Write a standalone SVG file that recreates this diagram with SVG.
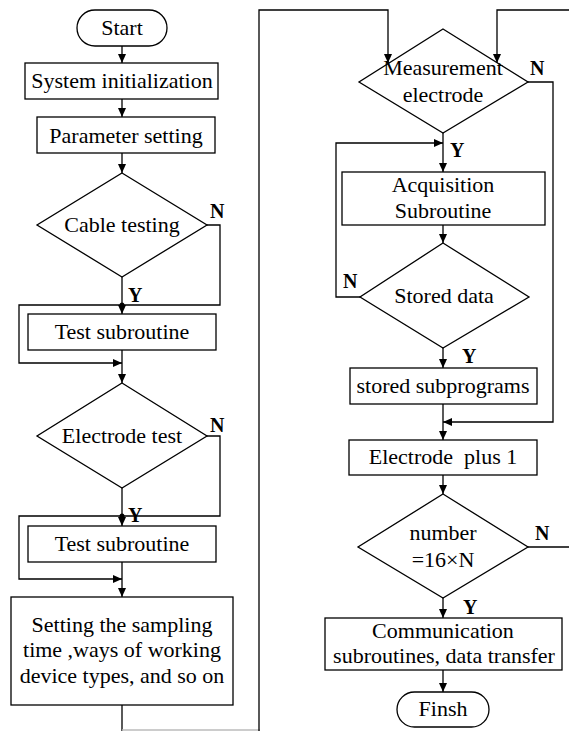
<svg xmlns="http://www.w3.org/2000/svg" width="569" height="731" viewBox="0 0 569 731">
<defs>
<style>
.s{fill:#fff;stroke:#000;stroke-width:1.3}
.c{fill:none;stroke:#000;stroke-width:1.3}
.t{font-family:"Liberation Serif","Times New Roman",serif;font-size:22px;fill:#000;text-anchor:middle}
.l{font-family:"Liberation Serif","Times New Roman",serif;font-size:20px;font-weight:bold;fill:#000}
</style>
<marker id="a" markerUnits="userSpaceOnUse" markerWidth="10" markerHeight="8" refX="9" refY="4" orient="auto"><path d="M0,0 L9,4 L0,8 Z" fill="#000"/></marker>
</defs>
<rect width="569" height="731" fill="#fff"/>
<g id="connectors">
<path class="c" d="M122 46 V63" marker-end="url(#a)"/>
<path class="c" d="M122 99 V117" marker-end="url(#a)"/>
<path class="c" d="M122 153 V173" marker-end="url(#a)"/>
<path class="c" d="M122 277 V314" marker-end="url(#a)"/>
<path class="c" d="M207 225 H220 V305 H19 V363 H122" marker-end="url(#a)"/>
<circle cx="122" cy="305" r="2.5" fill="#000"/>
<path class="c" d="M122 350 V383" marker-end="url(#a)"/>
<path class="c" d="M122 488 V526" marker-end="url(#a)"/>
<path class="c" d="M207 436 H220 V516 H19 V579 H122" marker-end="url(#a)"/>
<circle cx="122" cy="516" r="2.5" fill="#000"/>
<path class="c" d="M122 562 V597" marker-end="url(#a)"/>
<path class="c" d="M122 705 V731"/>
<path d="M122 730 H260" fill="none" stroke="#bbb" stroke-width="1.3"/>
<path class="c" d="M259 731 V10 H388 V63" marker-end="url(#a)"/>
<path class="c" d="M528 547 H570"/>
<path class="c" d="M570 10 H497 V63" marker-end="url(#a)"/>
<path class="c" d="M443 133 V172" marker-end="url(#a)"/>
<path class="c" d="M360 297 H336 V143 H443" marker-end="url(#a)"/>
<path class="c" d="M443 225 V243" marker-end="url(#a)"/>
<path class="c" d="M443 348 V368" marker-end="url(#a)"/>
<path class="c" d="M443 404 V440" marker-end="url(#a)"/>
<path class="c" d="M528 82 H553 V422 H443" marker-end="url(#a)"/>
<path class="c" d="M443 475 V494" marker-end="url(#a)"/>
<path class="c" d="M443 598 V618" marker-end="url(#a)"/>
<path class="c" d="M443 670 V692" marker-end="url(#a)"/>
</g>
<g id="start"><rect class="s" x="77" y="10" width="90" height="36" rx="18"/><text class="t" x="122" y="35">Start</text></g>
<g id="sysinit"><rect class="s" x="25" y="63" width="193" height="36"/><text class="t" x="122" y="88">System initialization</text></g>
<g id="param"><rect class="s" x="37" y="117" width="178" height="36"/><text class="t" x="126" y="143">Parameter setting</text></g>
<g id="cable"><path class="s" d="M122 173 L207 225 L122 277 L37 225 Z"/><text class="t" x="122" y="232">Cable testing</text><text class="l" x="210" y="218">N</text><text class="l" x="128" y="302">Y</text></g>
<g id="test1"><rect class="s" x="28" y="314" width="188" height="36"/><text class="t" x="122" y="339">Test subroutine</text></g>
<g id="electest"><path class="s" d="M122 383 L207 436 L122 488 L37 436 Z"/><text class="t" x="122" y="443">Electrode test</text><text class="l" x="210" y="432">N</text><text class="l" x="128" y="522">Y</text></g>
<g id="test2"><rect class="s" x="28" y="526" width="188" height="36"/><text class="t" x="122" y="551">Test subroutine</text></g>
<g id="setting"><rect class="s" x="11" y="597" width="222" height="108"/><text class="t" x="122" y="632">Setting the sampling</text><text class="t" x="122" y="657">time ,ways of working</text><text class="t" x="122" y="683">device types, and so on</text></g>
<g id="measure"><path class="s" d="M443 29 L528 82 L443 133 L359 82 Z"/><text class="t" x="443" y="75">Measurement</text><text class="t" x="443" y="102">electrode</text><text class="l" x="530" y="75">N</text><text class="l" x="450" y="157">Y</text></g>
<g id="acq"><rect class="s" x="342" y="172" width="203" height="53"/><text class="t" x="443" y="192">Acquisition</text><text class="t" x="443" y="218">Subroutine</text></g>
<g id="stored"><path class="s" d="M443 243 L529 297 L443 348 L360 297 Z"/><text class="t" x="444" y="303">Stored data</text><text class="l" x="343" y="288">N</text><text class="l" x="462" y="363">Y</text></g>
<g id="storedsub"><rect class="s" x="350" y="368" width="187" height="36"/><text class="t" x="443" y="393">stored subprograms</text></g>
<g id="plus"><rect class="s" x="349" y="440" width="188" height="35"/><text class="t" x="443" y="464" xml:space="preserve">Electrode  plus 1</text></g>
<g id="number"><path class="s" d="M443 494 L528 547 L443 598 L358 547 Z"/><text class="t" x="443" y="540">number</text><text class="t" x="443" y="567">=16×N</text><text class="l" x="535" y="540">N</text><text class="l" x="463" y="614">Y</text></g>
<g id="comm"><rect class="s" x="325" y="618" width="237" height="52"/><text class="t" x="443" y="638">Communication</text><text class="t" x="444" y="663">subroutines, data transfer</text></g>
<g id="finsh"><rect class="s" x="397" y="692" width="92" height="35" rx="17.5"/><text class="t" x="443" y="716">Finsh</text></g>
</svg>
